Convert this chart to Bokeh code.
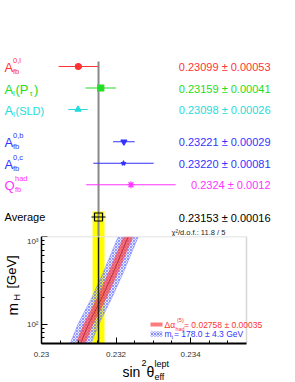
import math
from bokeh.plotting import figure
from bokeh.models import Range1d, FixedTicker
from bokeh.layouts import column
from bokeh.core.properties import value
from bokeh.embed import file_html
from bokeh.resources import INLINE

# ---------------- data ----------------
measurements = ["A_fb^0,l", "A_l(P_tau)", "A_l(SLD)", "A_fb^0,b", "A_fb^0,c", "Q_fb^had"]
sin2_values = [0.23099, 0.23159, 0.23098, 0.23221, 0.23220, 0.2324]
sin2_errors = [0.00053, 0.00041, 0.00026, 0.00029, 0.00081, 0.0012]
value_texts = ["0.23099 \u00b1 0.00053", "0.23159 \u00b1 0.00041", "0.23098 \u00b1 0.00026",
               "0.23221 \u00b1 0.00029", "0.23220 \u00b1 0.00081", "0.2324 \u00b1 0.0012"]
average_value = 0.23153
average_error = 0.00016
average_text = "0.23153 \u00b1 0.00016"
chi2_text = "\u03c7\u00b2/d.o.f.: 11.8 / 5"

mh_points = [60, 100, 200, 400, 1000]
sm_center = [0.23105, 0.23126, 0.23162, 0.23194, 0.23233]
dalpha_halfwidth = [0.00013, 0.00013, 0.00013, 0.00013, 0.00013]
mt_halfwidth = [0.00028, 0.00028, 0.00027, 0.00027, 0.00027]
dalpha_value = "= 0.02758 \u00b1 0.00035"
mt_value = "= 178.0 \u00b1 4.3 GeV"

x_ticks = [0.23, 0.232, 0.234]
x_tick_labels = ["0.23", "0.232", "0.234"]
x_minor_ticks = [0.2305, 0.231, 0.2315, 0.2325, 0.233, 0.2335, 0.2345, 0.235]
y_ticks = [100, 1000]
y_tick_labels = ["10\u00b2", "10\u00b3"]
y_minor_ticks = [60, 70, 80, 90, 200, 300, 400, 500, 600, 700, 800, 900]

# ---------------- styling / layout ----------------
FONT = "Liberation Sans"
colors = ["#ff3333", "#22dd22", "#22dddd", "#3333ff", "#3333ff", "#ff33ff"]
markers = ["circle", "square", "triangle", "inverted_triangle", "star", "asterisk"]
msizes = [6, 6, 6, 6, 5, 7]
row_pos = [0, 1, 2, 3.5, 4.5, 5.5]
avg_row = 7

X_MIN, X_MAX = 0.23, 0.2355          # axis extent of the lower panel
Y_MIN, Y_MAX = 60, 1000
W = 295
TOP_H = 236
BOT_H = 146
FRAME_L = 41                          # page px of x = 0.23
SCALE = 205 / (X_MAX - X_MIN)         # px per unit of sin^2
ROW0 = 66.0
ROWH = 21.5
PANEL_TOP = 236                       # page px of m_H = 1000
PX_PER_DEC = 107 / math.log10(Y_MAX / Y_MIN)


def xp(page_x):
    return X_MIN + (page_x - FRAME_L) / SCALE


def yr(page_y):
    return (page_y - ROW0) / ROWH


def ylog(page_y):
    return 10 ** (math.log10(Y_MAX) - (page_y - PANEL_TOP) / PX_PER_DEC)


# ---------------- top panel ----------------
top = figure(width=W, height=TOP_H, x_range=Range1d(xp(0), xp(W)),
             y_range=Range1d(yr(TOP_H), yr(0)), output_backend="svg",
             toolbar_location=None, x_axis_location=None, y_axis_location=None,
             min_border=0)
top.grid.visible = False
top.outline_line_color = None

top.quad(left=[average_value - average_error], right=[average_value + average_error],
         top=[yr(211)], bottom=[yr(TOP_H + 5)], fill_color="#ffff00", line_color=None)
top.segment(x0=[average_value], y0=[yr(61)], x1=[average_value], y1=[yr(TOP_H + 5)],
            line_color="#888888", line_width=2)

top.segment(x0=[v - e for v, e in zip(sin2_values, sin2_errors)], y0=row_pos,
            x1=[v + e for v, e in zip(sin2_values, sin2_errors)], y1=row_pos,
            line_color=colors, line_width=1.2)
for v, r, c, m, s in zip(sin2_values, row_pos, colors, markers, msizes):
    top.scatter(x=[v], y=[r], marker=m, size=s, fill_color=c, line_color=c, line_width=1.2)

top.segment(x0=[average_value - average_error - 0.00003], y0=[avg_row],
            x1=[average_value + average_error + 0.00003], y1=[avg_row],
            line_color="black", line_width=1)
top.scatter(x=[average_value], y=[avg_row], marker="square", size=8,
            fill_alpha=0, line_color="black", line_width=1.2)

top.text(x=[xp(270)] * len(value_texts), y=[r + 0.03 for r in row_pos], text=value_texts,
         text_color=colors, text_font=value(FONT), text_font_size=value("11px"),
         text_align="right", text_baseline="middle")
top.text(x=[xp(270)], y=[avg_row + 0.03], text=[average_text], text_color="black",
         text_font=value(FONT), text_font_size=value("11px"),
         text_align="right", text_baseline="middle")
top.text(x=[xp(171)], y=[yr(232)], text=[chi2_text], text_color="#222222",
         text_font=value(FONT), text_font_size=value("7.5px"),
         text_align="left", text_baseline="middle")


def put(px, py, txt, size, color):
    top.text(x=[xp(px)], y=[yr(py)], text=[txt], text_color=color,
             text_font=value(FONT), text_font_size=value(f"{size}px"),
             text_align="left", text_baseline="middle")


def row_page(r):
    return ROW0 + r * ROWH


for i, sup in ((0, "0,l"), (3, "0,b"), (4, "0,c")):
    y = row_page(row_pos[i])
    put(4, y + 1, "A", 13, colors[i])
    put(12.5, y + 5, "fb", 7.5, colors[i])
    put(12.5, y - 6, sup, 7.5, colors[i])
y = row_page(row_pos[1])
put(4, y + 1, "A", 13, colors[1])
put(12.5, y + 5, "l", 8, colors[1])
put(15, y + 1, "(P", 13, colors[1])
put(29, y + 5, "\u03c4", 8, colors[1])
put(33.5, y + 1, ")", 13, colors[1])
y = row_page(row_pos[2])
put(4, y + 1, "A", 13, colors[2])
put(12.5, y + 5, "l", 8, colors[2])
put(15, y + 1, "(SLD)", 11, colors[2])
y = row_page(row_pos[5])
put(4, y + 1, "Q", 13, colors[5])
put(14.5, y + 5, "fb", 7.5, colors[5])
put(14.5, y - 6, "had", 7.5, colors[5])
put(4, row_page(avg_row), "Average", 11, "black")

# ---------------- bottom panel ----------------
bot = figure(width=W, height=BOT_H, x_range=Range1d(xp(0), xp(W)),
             y_range=Range1d(ylog(PANEL_TOP + BOT_H), ylog(PANEL_TOP)),
             y_axis_type="log", output_backend="svg", toolbar_location=None,
             min_border=0)
bot.grid.visible = False
bot.outline_line_color = None

bot.quad(left=[average_value - average_error], right=[average_value + average_error],
         bottom=[Y_MIN], top=[ylog(PANEL_TOP - 5)], fill_color="#ffff00", line_color=None)

blue_lo = [c - w for c, w in zip(sm_center, mt_halfwidth)]
blue_hi = [c + w for c, w in zip(sm_center, mt_halfwidth)]
red_lo = [c - w for c, w in zip(sm_center, dalpha_halfwidth)]
red_hi = [c + w for c, w in zip(sm_center, dalpha_halfwidth)]

bot.harea(x1=blue_lo, x2=blue_hi, y=mh_points, fill_color="#b8b8ff", fill_alpha=0.35,
          hatch_pattern="x", hatch_color="#4455ff", hatch_scale=3, hatch_weight=0.6,
          hatch_alpha=0.9)
bot.line(x=blue_lo, y=mh_points, line_color="#6677ff", line_width=0.6, line_alpha=0.7)
bot.line(x=blue_hi, y=mh_points, line_color="#6677ff", line_width=0.6, line_alpha=0.7)
bot.harea(x1=red_lo, x2=red_hi, y=mh_points, fill_color="#ff4444", fill_alpha=0.7)
bot.line(x=sm_center, y=mh_points, line_color="#bb2222", line_width=0.8)

bot.segment(x0=[average_value], y0=[Y_MIN], x1=[average_value], y1=[ylog(PANEL_TOP - 5)],
            line_color="#222222", line_width=1.5)

# light frame (top and right edges of the panel)
bot.segment(x0=[X_MIN, X_MAX], y0=[Y_MAX, Y_MIN], x1=[X_MAX, X_MAX], y1=[Y_MAX, Y_MAX],
            line_color="#d8d8d8", line_width=1.5)

xa = bot.xaxis[0]
xa.fixed_location = Y_MIN
xa.bounds = (X_MIN, X_MAX)
xa.ticker = FixedTicker(ticks=x_ticks, minor_ticks=x_minor_ticks)
xa.major_label_overrides = {t: l for t, l in zip(x_ticks, x_tick_labels)}
ya = bot.yaxis[0]
ya.fixed_location = X_MIN
ya.bounds = (Y_MIN, Y_MAX)
ya.ticker = FixedTicker(ticks=y_ticks, minor_ticks=y_minor_ticks)
ya.major_label_overrides = {t: l for t, l in zip(y_ticks, y_tick_labels)}
for ax in (xa, ya):
    ax.axis_line_color = "black"
    ax.major_tick_in = 6
    ax.major_tick_out = 0
    ax.minor_tick_in = 3
    ax.minor_tick_out = 0
    ax.major_tick_line_color = "black"
    ax.minor_tick_line_color = "black"
    ax.major_label_text_font = FONT
    ax.major_label_text_font_size = "8px"
    ax.major_label_text_color = "#333333"
xa.axis_line_width = 2
ya.axis_line_width = 1.5
xa.major_label_standoff = 8
ya.major_label_standoff = 3


def btxt(px, py, txt, size, color, angle=0.0):
    bot.text(x=[xp(px)], y=[ylog(py)], text=[txt], text_color=color,
             text_font=value(FONT), text_font_size=value(f"{size}px"),
             text_align="left", text_baseline="middle", angle=angle)


# x axis title: sin^2 theta_eff^lept
btxt(122, 371, "sin", 14, "black")
btxt(141, 362, "2", 9, "black")
btxt(146, 371, "\u03b8", 14, "black")
btxt(154, 363, "lept", 9, "black")
btxt(154, 376, "eff", 9, "black")
# y axis title: m_H [GeV]
btxt(11.5, 315, "m", 15, "black", math.pi / 2)
btxt(16, 300, "H", 9, "black", math.pi / 2)
btxt(11, 288, "[GeV]", 13, "black", math.pi / 2)

# legend
bot.quad(left=[xp(150)], right=[xp(162)], top=[ylog(322)], bottom=[ylog(326)],
         fill_color="#ff4444", fill_alpha=0.7, line_color=None)
bot.quad(left=[xp(150)], right=[xp(162)], top=[ylog(331)], bottom=[ylog(336)],
         fill_color="#b8b8ff", fill_alpha=0.35, hatch_pattern="x",
         hatch_color="#4455ff", hatch_scale=3, hatch_weight=0.6, line_color=None)
btxt(164, 324.5, "\u0394\u03b1", 8.5, "#ff3333")
btxt(175, 328, "had", 5.5, "#ff3333")
btxt(176.5, 319, "(5)", 5.5, "#ff3333")
btxt(183.5, 324.5, dalpha_value, 8.5, "#ff3333")
btxt(164, 333.5, "m", 8.5, "#3333ff")
btxt(171, 336, "t", 5.5, "#3333ff")
btxt(173.5, 333.5, mt_value, 8.5, "#3333ff")

layout = column(top, bot)
open("out.html", "w").write(file_html(layout, INLINE))
